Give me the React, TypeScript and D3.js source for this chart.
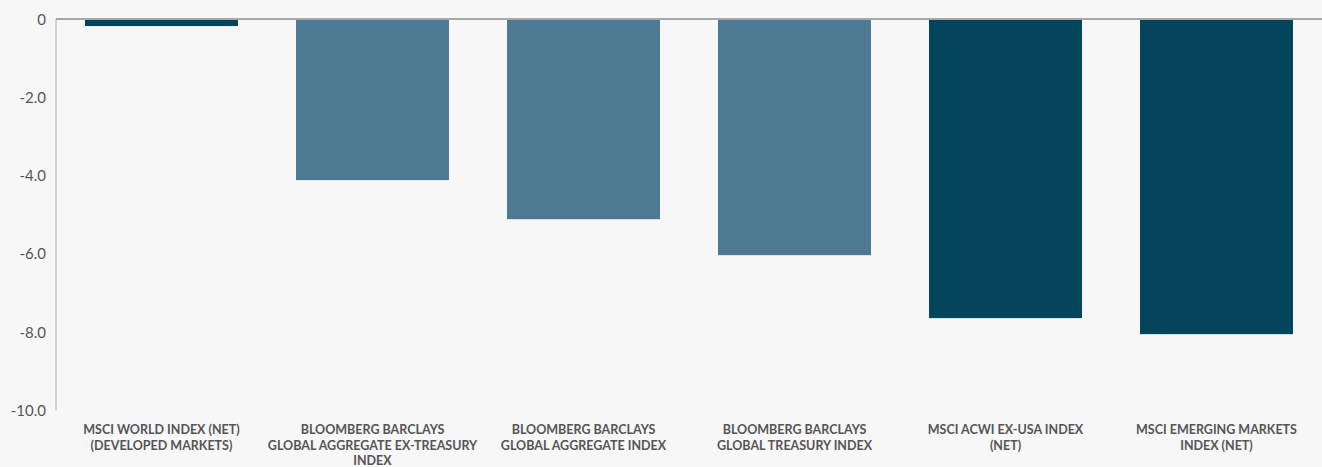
import React from "react";
import * as d3 from "d3";

const categories: string[][] = [
  ["MSCI WORLD INDEX (NET)", "(DEVELOPED MARKETS)"],
  ["BLOOMBERG BARCLAYS", "GLOBAL AGGREGATE EX-TREASURY", "INDEX"],
  ["BLOOMBERG BARCLAYS", "GLOBAL AGGREGATE INDEX"],
  ["BLOOMBERG BARCLAYS", "GLOBAL TREASURY INDEX"],
  ["MSCI ACWI EX-USA INDEX", "(NET)"],
  ["MSCI EMERGING MARKETS", "INDEX (NET)"],
];
const values: number[] = [-0.18, -4.12, -5.12, -6.04, -7.65, -8.06];
const seriesKind: string[] = ["equity", "bond", "bond", "bond", "equity", "equity"];
const yTicks: number[] = [0, -2, -4, -6, -8, -10];

const W = 1322;
const H = 467;
const margin = { left: 56, right: 0, top: 19, bottom: 57 };
const colors: Record<string, string> = { equity: "#03465c", bond: "#4d7993" };
const font = "Lato, 'Open Sans', sans-serif";

export default function App() {
  const x = d3
    .scaleBand<number>()
    .domain(d3.range(values.length))
    .range([margin.left, W - margin.right])
    .paddingInner(0.275)
    .paddingOuter(0.1375);
  const y = d3.scaleLinear().domain([0, -10]).range([margin.top, H - margin.bottom]);

  return (
    <div style={{ position: "fixed", left: 0, top: 0, width: W, height: H, background: "#f7f7f7" }}>
      <svg width={W} height={H} style={{ display: "block" }}>
        <rect x={0} y={0} width={W} height={H} fill="#f7f7f7" />
        {values.map((v, i) => (
          <rect
            key={i}
            x={x(i)}
            y={y(0)}
            width={x.bandwidth()}
            height={y(v) - y(0)}
            fill={colors[seriesKind[i]]}
          />
        ))}
        <line x1={margin.left} x2={margin.left} y1={y(0)} y2={y(-10)} stroke="#b0b0b0" strokeWidth={1} />
        <line x1={margin.left} x2={W} y1={y(0)} y2={y(0)} stroke="#a8a8a8" strokeWidth={2} />
        {yTicks.map((t) => (
          <text
            key={t}
            x={46}
            y={y(t) + 2}
            textAnchor="end"
            dominantBaseline="middle"
            fontFamily={font}
            fontSize={15}
            fill="#555"
          >
            {t === 0 ? "0" : d3.format(".1f")(t).replace("−", "-")}
          </text>
        ))}
        {categories.map((lines, i) => (
          <text
            key={i}
            x={(x(i) ?? 0) + x.bandwidth() / 2}
            y={434}
            textAnchor="middle"
            fontFamily={font}
            fontSize={12.5}
            fontWeight={700}
            fill="#555"
          >
            {lines.map((l, j) => (
              <tspan key={j} x={(x(i) ?? 0) + x.bandwidth() / 2} dy={j === 0 ? 0 : 15.5}>
                {l}
              </tspan>
            ))}
          </text>
        ))}
      </svg>
    </div>
  );
}
